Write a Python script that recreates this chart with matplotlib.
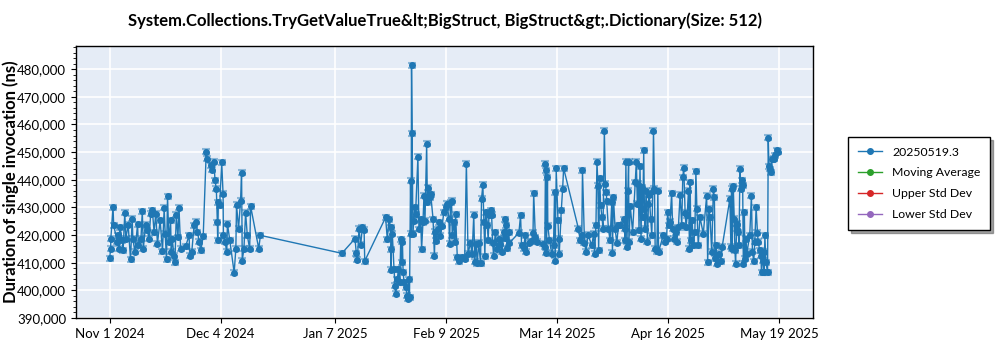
import matplotlib
matplotlib.use("Agg")
import matplotlib.pyplot as plt
import matplotlib.ticker as mticker
import numpy as np
import pandas as pd

title = "System.Collections.TryGetValueTrue&lt;BigStruct, BigStruct&gt;.Dictionary(Size: 512)"
series_name = "20250519.3"
start_date = "2024-11-01"

# run time, in days after start_date
run_day = [
    0.0, 0.3, 0.35, 1.0, 1.2, 2.3, 2.6, 2.8, 3.0, 3.8, 4.0, 4.5, 4.8, 5.5, 6.2, 6.7, 6.9, 7.5,
    8.3, 8.5, 9.3, 9.7, 10.0, 10.7, 11.2, 11.7, 12.2, 12.7, 13.2, 13.7, 14.2, 15.0, 15.7, 16.2,
    16.5, 16.9, 17.2, 17.6, 18.1, 18.3, 18.6, 19.1, 19.4, 19.8, 20.3, 20.6, 21.1, 22.6, 23.6,
    23.8, 24.4, 25.1, 25.6, 26.1, 26.6, 27.1, 27.8, 28.7, 28.8, 30.0, 30.5, 31.0, 31.3, 31.7,
    32.0, 32.1, 32.3, 32.7, 33.3, 33.7, 33.8, 34.3, 34.8, 35.0, 35.7, 37.0, 37.5, 37.7, 38.3,
    38.9, 39.2, 39.4, 39.9, 40.4, 40.9, 41.6, 41.9, 44.3, 44.8,
    69.0, 72.9, 73.3, 73.6, 74.1, 74.6, 75.1, 75.6, 75.8,
    82.0, 82.5, 83.0, 83.5, 83.6, 83.7, 84.0, 84.5, 84.8, 85.0, 85.5, 85.8, 86.2, 86.5, 86.8,
    87.0, 87.2, 87.5, 88.0, 88.4, 88.7, 88.9, 89.1, 89.4, 89.6, 89.7, 89.9, 90.1, 90.4, 90.7,
    90.9, 91.6, 91.9, 92.4, 92.7, 93.1, 93.4, 93.7, 94.2, 94.4, 94.7, 95.1, 95.4, 96.1, 96.5,
    96.7, 97.0, 97.6, 98.0, 98.3, 98.8, 99.3, 99.8, 100.3, 100.8, 101.0, 101.3, 101.6, 101.8,
    102.3, 102.6, 102.8, 103.3, 103.8, 104.8, 105.5, 106.0, 106.5, 107.2, 107.7, 108.2, 108.5,
    108.9, 109.2, 109.7, 110.2, 110.5, 110.9, 111.2, 111.5, 111.7, 112.2, 112.5, 112.7, 113.2,
    113.5, 113.8, 114.1, 114.6, 115.1, 115.6, 116.1, 116.6, 117.1, 117.4, 117.6, 117.9, 118.1,
    118.6, 118.8,
    121.6, 122.1, 122.4, 123.0, 123.5, 123.7, 124.5, 125.3, 125.8, 126.0, 126.5, 127.0, 128.7,
    129.3, 129.5, 129.6, 129.8, 130.1, 130.2, 130.7, 131.4, 131.9, 132.2, 132.4, 132.7, 133.2,
    133.4, 133.6, 134.2, 134.6, 134.9,
    139.3, 139.8, 140.3, 140.5, 141.1, 141.6, 142.1, 143.3, 143.8, 144.1, 144.5, 144.8, 145.1,
    145.3, 145.6, 145.9, 146.3, 146.6, 147.0, 147.3, 147.6, 147.7, 148.2, 148.7, 149.2, 149.4,
    149.7, 150.2, 150.7, 151.2, 151.7, 152.7, 153.0, 153.2, 153.4, 153.7, 154.0, 154.2, 154.3,
    154.7, 155.4, 156.2, 156.5, 156.8, 157.1, 157.3, 157.6, 157.9, 158.1, 158.4, 158.7, 158.9,
    159.1, 159.4, 159.8, 160.1, 160.3, 160.8, 161.1, 161.4, 161.6, 161.9, 162.1, 162.6, 162.9,
    163.1,
    164.5, 165.0, 165.5, 165.8, 166.2, 166.5, 167.0, 167.3, 167.8, 168.2, 168.5, 169.0, 169.5,
    170.0, 170.3, 170.6, 171.0, 171.3, 171.6, 172.0, 172.3, 172.5, 172.7, 173.1, 173.4, 173.9,
    174.2, 174.5, 174.9, 175.4, 176.4, 177.4, 177.7, 178.1, 178.4, 178.9, 179.4, 179.7, 179.9,
    180.2, 180.6, 181.1, 181.6, 182.0,
    184.3, 184.6, 184.8, 185.0, 185.3, 185.6, 185.8, 186.0, 186.3, 186.5, 186.8, 187.0, 187.3,
    187.6, 187.8, 188.1, 188.3, 188.6, 188.8, 189.1, 189.3, 190.2, 190.7, 191.0, 191.4, 191.7,
    192.1, 192.5, 192.7, 193.2, 193.5, 193.7, 194.0, 194.3, 194.5, 194.7, 195.0, 195.5, 195.7,
    195.9, 196.2, 196.5, 196.8, 197.4, 197.8, 198.2, 198.6,
]

# mean duration of a single invocation, ns
duration_ns = [
    411700, 415100, 418700, 430100, 423500, 417500, 419900, 415100, 422900, 418100, 414500,
    428100, 418700, 423700, 411200, 425900, 418700, 413900, 424000, 416300, 418700, 428600,
    415100, 423700, 421700, 418700, 427700, 428900, 421100, 427700, 416900, 425300, 414100,
    429800, 420500, 411200, 434100, 417500, 425300, 413900, 418700, 412600, 410200, 427300,
    419300, 429800, 415100, 416000, 419900, 412600, 413900, 423500, 424900, 421100, 417500,
    414500, 419600, 450200, 447600, 445200, 443700, 446600, 439800, 436700, 424700, 418100,
    431900, 430700, 446400, 434900, 419900, 417500, 413900, 424100, 418100, 406400, 415100,
    431000, 422300, 432500, 442500, 410800, 415100, 428100, 419900, 415100, 430400, 415100,
    419900,
    413400, 418700, 413400, 411000, 422300, 416500, 422800, 422000, 410600,
    426400, 418500, 425800, 422800, 407500, 414900, 420400, 407700, 401700, 398700, 404100,
    407700, 402900, 418500, 410100, 417600, 406500, 402900, 401100, 398100, 396900, 404100,
    397500, 439600, 420400, 481400, 456900, 420400, 425200, 430000, 427600, 448300, 422200,
    425800, 414900, 424600, 434200, 425200, 453100, 431800, 437200, 433600, 434800, 425800,
    412500, 421200, 417900, 422200, 424600, 419800, 423400, 428200, 430100, 431300, 425900,
    416900, 431900, 432500, 419900, 424700, 417500, 427600, 412000, 410500, 412000, 411400,
    445800, 413200, 417200, 413200, 427300, 410400, 416900, 409800, 417200, 409800, 433100,
    438200, 424700, 412300, 428300, 423500, 418100, 427100, 428900, 427300, 417200, 412600,
    421100, 415100, 418700, 416900, 413900, 421100, 418900, 425700, 423500, 415300, 421100,
    417200,
    420800, 427100, 416300, 415300, 419900, 413900, 417200, 417700, 420800, 435200, 419300,
    417500, 416900, 415700, 445800, 443400, 413600, 441000, 423300, 418100, 413200, 416300,
    435500, 410800, 444200, 425300, 418700, 413200, 428900, 436700, 444200,
    422300, 418100, 419900, 443400, 417200, 413900, 420100, 416300, 420500, 413200, 423500,
    446600, 437900, 414500, 440600, 430700, 426500, 422300, 457800, 438600, 435500, 432200,
    422300, 418100, 431900, 413600, 433700, 422300, 417200, 423500, 423500, 425700, 422300,
    418100, 446600, 415700, 436100, 446600, 417500, 430500, 421100, 439200, 446600, 431300,
    438600, 421700, 444900, 418700, 437300, 426500, 450600, 429500, 422300, 436100, 417500,
    431300, 434600, 425700, 419900, 436100, 457800, 436700, 415100, 414100, 436100, 413900,
    419900, 417500, 418700, 428300, 423500, 424900, 435100, 422300, 418700, 421100, 417500,
    422900, 434600, 423500, 441000, 444300, 428100, 422900, 427100, 436100, 415100, 439200,
    418100, 425300, 416300, 421100, 443000, 429500, 416300, 426500, 420500, 434300, 410200,
    429500, 426500, 413900, 436700, 433700, 411700, 416300, 409600, 413200, 410500, 415700,
    433100, 415700, 436700, 415100, 437700, 425900, 414500, 409600, 422300, 424100, 421100,
    416300, 444000, 436700, 439800, 438000, 409600, 428300, 411400, 418700, 413200, 419900,
    434300, 413900, 410500, 417500, 430100, 420800, 417500, 414500, 412600, 406600, 410800,
    413900, 406600, 419900, 410200, 406600, 455200, 444900, 443900, 442800, 447400, 447600,
    448800, 450600, 450200,
]

# standard error shown on every run, ns
error_ns = 900

tick_labels = ["Nov 1 2024", "Dec 4 2024", "Jan 7 2025", "Feb 9 2025",
               "Mar 14 2025", "Apr 16 2025", "May 19 2025"]
y_ticks = [390000, 400000, 410000, 420000, 430000, 440000, 450000, 460000, 470000, 480000]

plt.rcParams['font.family'] = ['Lato', 'DejaVu Sans']

dates = pd.Timestamp(start_date) + pd.to_timedelta(run_day, unit="D")

fig = plt.figure(figsize=(10, 3.5), dpi=100)
ax = fig.add_axes([0.076, 0.0914, 0.737, 0.778])
ax.set_facecolor("#E5ECF6")
ax.grid(True, color="white", linewidth=1.2)
ax.set_axisbelow(True)

ax.errorbar(dates, duration_ns, yerr=error_ns, fmt="none", ecolor="#1f77b4",
            alpha=0.45, capsize=3, elinewidth=1.5, capthick=1.5)
ax.plot(dates, duration_ns, color="#1f77b4", linewidth=1, marker="o",
        markersize=4, label=series_name)
ax.plot([], [], color="#2ca02c", linewidth=1, marker="o", markersize=4, label="Moving Average")
ax.plot([], [], color="#d62728", linewidth=1, marker="o", markersize=4, label="Upper Std Dev")
ax.plot([], [], color="#9467bd", linewidth=1, marker="o", markersize=4, label="Lower Std Dev")

tick_dates = pd.to_datetime(tick_labels, format="%b %d %Y")
ax.set_xticks(tick_dates)
ax.set_xticklabels(tick_labels)
ax.set_xlim(pd.Timestamp("2024-10-22"), pd.Timestamp("2025-05-29"))

ax.set_yticks(y_ticks)
ax.set_ylim(390000, 488500)
ax.yaxis.set_major_formatter(mticker.StrMethodFormatter("{x:,.0f}"))
ax.yaxis.set_minor_locator(mticker.MultipleLocator(2000))
ax.tick_params(axis="both", labelsize=9.5, color="black")
ax.tick_params(axis="y", which="minor", length=2)

for spine in ax.spines.values():
    spine.set_color("black")
    spine.set_linewidth(1)

ax.set_ylabel("Duration of single invocation (ns)", fontsize=12, fontweight="bold")
ax.yaxis.set_label_coords(-0.078, 0.5)
ax.set_title(title, fontsize=12, fontweight="bold", pad=14)

leg = fig.legend(loc="upper left", bbox_to_anchor=(0.848, 0.609), borderaxespad=0,
                 fontsize=8.8, frameon=True, fancybox=False, shadow=True, borderpad=0.8,
                 labelspacing=0.8, handlelength=2)
leg.get_frame().set_edgecolor("black")

fig.savefig("out.png", dpi=100)
